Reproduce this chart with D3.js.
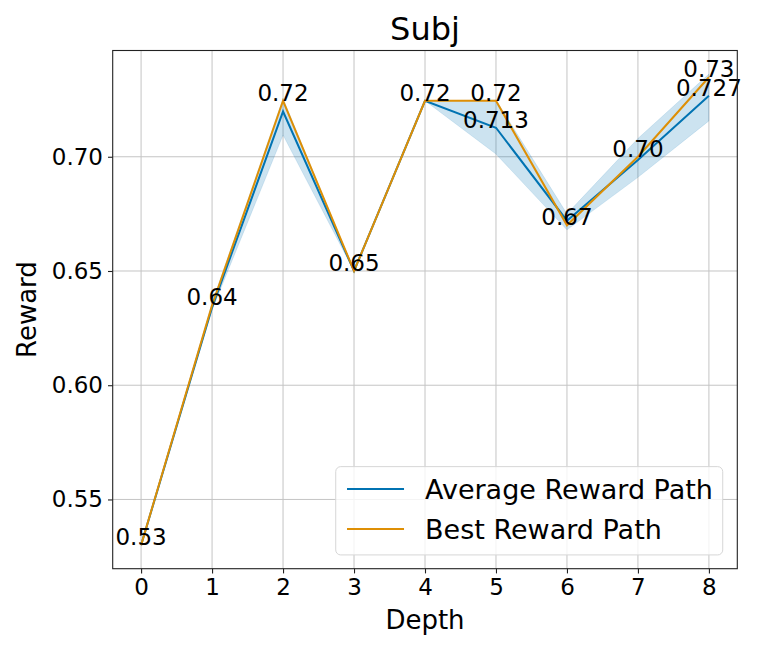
<!DOCTYPE html>
<html>
<head>
<meta charset="utf-8">
<script src="https://cdn.jsdelivr.net/npm/d3@7"></script>
<style>
  body { margin: 0; background: #fff; }
  svg { display: block; font-family: "DejaVu Sans", sans-serif; }
</style>
</head>
<body>
<div id="chart"></div>
<script>
// values
const depths = [0, 1, 2, 3, 4, 5, 6, 7, 8];
const bestReward = [0.530, 0.635, 0.7245, 0.650, 0.7245, 0.7245, 0.670, 0.700, 0.7348];
const avgReward = [0.530, 0.634, 0.7198, 0.650, 0.7245, 0.7127, 0.672, 0.6986, 0.7267];
const avgLower = [0.530, 0.633, 0.7095, 0.650, 0.7245, 0.7012, 0.668, 0.691, 0.7157];
const avgUpper = [0.530, 0.636, 0.7255, 0.650, 0.7245, 0.7248, 0.675, 0.708, 0.7362];
const avgLabelDepths = [5, 8];
const yTicks = [0.55, 0.60, 0.65, 0.70];

const blue = "#0173B2";
const orange = "#DE8F05";

const W = 761, H = 653;
const margin = { top: 50.5, right: 23.7, bottom: 84.3, left: 112.7 };
const iw = W - margin.left - margin.right;
const ih = H - margin.top - margin.bottom;

const svg = d3.select("#chart").append("svg")
  .attr("width", W)
  .attr("height", H)
  .attr("viewBox", `0 0 ${W} ${H}`);

// matplotlib-like 5% margins
const xPad = (d3.max(depths) - d3.min(depths)) * 0.05;
const x = d3.scaleLinear()
  .domain([d3.min(depths) - xPad, d3.max(depths) + xPad])
  .range([margin.left, margin.left + iw]);

const allY = bestReward.concat(avgReward, avgLower, avgUpper);
const yMin = d3.min(allY), yMax = d3.max(allY);
const yPad = (yMax - yMin) * 0.05;
const y = d3.scaleLinear()
  .domain([yMin - yPad, yMax + yPad])
  .range([margin.top + ih, margin.top]);

// grid
const grid = svg.append("g").attr("class", "grid");
grid.selectAll(".gx").data(depths).join("line")
  .attr("x1", d => x(d)).attr("x2", d => x(d))
  .attr("y1", margin.top).attr("y2", margin.top + ih)
  .attr("stroke", "#c4c4c4").attr("stroke-width", 1);
grid.selectAll(".gy").data(yTicks).join("line")
  .attr("x1", margin.left).attr("x2", margin.left + iw)
  .attr("y1", d => y(d)).attr("y2", d => y(d))
  .attr("stroke", "#c4c4c4").attr("stroke-width", 1);

// band
const band = d3.area()
  .x((d, i) => x(depths[i]))
  .y0((d, i) => y(avgLower[i]))
  .y1((d, i) => y(avgUpper[i]));
svg.append("path")
  .datum(depths)
  .attr("d", band)
  .attr("fill", blue)
  .attr("fill-opacity", 0.2)
  .attr("stroke", blue)
  .attr("stroke-opacity", 0.12)
  .attr("stroke-width", 1);

const line = vals => d3.line()
  .x((d, i) => x(depths[i]))
  .y((d, i) => y(vals[i]))(depths);

svg.append("path")
  .attr("d", line(avgReward))
  .attr("fill", "none")
  .attr("stroke", blue)
  .attr("stroke-width", 2);

svg.append("path")
  .attr("d", line(bestReward))
  .attr("fill", "none")
  .attr("stroke", orange)
  .attr("stroke-width", 2);

// point labels
const labels = svg.append("g")
  .attr("font-size", 23)
  .attr("text-anchor", "middle")
  .attr("fill", "#000");
labels.selectAll(".lb").data(depths).join("text")
  .attr("x", d => x(d))
  .attr("y", (d, i) => y(bestReward[i]))
  .text((d, i) => bestReward[i].toFixed(2));
labels.selectAll(".la").data(avgLabelDepths).join("text")
  .attr("x", d => x(d))
  .attr("y", d => y(avgReward[depths.indexOf(d)]))
  .text(d => avgReward[depths.indexOf(d)].toFixed(3));

// spines
svg.append("rect")
  .attr("x", margin.left).attr("y", margin.top)
  .attr("width", iw).attr("height", ih)
  .attr("fill", "none")
  .attr("stroke", "#222")
  .attr("stroke-width", 1.1);

// axes
const xAxis = d3.axisBottom(x)
  .tickValues(depths)
  .tickFormat(d3.format("d"))
  .tickSize(4.7)
  .tickPadding(5);
const gx = svg.append("g")
  .attr("transform", `translate(0,${margin.top + ih})`)
  .call(xAxis);

const yAxis = d3.axisLeft(y)
  .tickValues(yTicks)
  .tickFormat(d3.format(".2f"))
  .tickSize(4.7)
  .tickPadding(5);
const gy = svg.append("g")
  .attr("transform", `translate(${margin.left},0)`)
  .call(yAxis);

[gx, gy].forEach(g => {
  g.select(".domain").remove();
  g.selectAll(".tick line").attr("stroke", "#222").attr("stroke-width", 1.1);
  g.selectAll(".tick text")
    .attr("fill", "#000")
    .attr("font-size", 23)
    .attr("font-family", "DejaVu Sans");
});

// titles
svg.append("text")
  .attr("x", margin.left + iw / 2)
  .attr("y", 40)
  .attr("text-anchor", "middle")
  .attr("font-size", 32)
  .text("Subj");

svg.append("text")
  .attr("x", margin.left + iw / 2)
  .attr("y", 629)
  .attr("text-anchor", "middle")
  .attr("font-size", 26)
  .text("Depth");

svg.append("text")
  .attr("transform", `translate(36,${margin.top + ih / 2}) rotate(-90)`)
  .attr("text-anchor", "middle")
  .attr("font-size", 26)
  .text("Reward");

// legend (lower right)
const legendItems = [
  { label: "Average Reward Path", color: blue },
  { label: "Best Reward Path", color: orange }
];
const fs = 27;
const lgRight = margin.left + iw - fs * 0.54;
const lgBottom = margin.top + ih - fs * 0.51;
const lgW = 387, lgH = 88.3;
const lg = svg.append("g")
  .attr("transform", `translate(${lgRight - lgW},${lgBottom - lgH})`);
lg.append("rect")
  .attr("width", lgW).attr("height", lgH)
  .attr("rx", 5).attr("ry", 5)
  .attr("fill", "#fff").attr("fill-opacity", 0.8)
  .attr("stroke", "#d6d6d6").attr("stroke-width", 1);
const li = lg.selectAll(".li").data(legendItems).join("g")
  .attr("transform", (d, i) => `translate(0,${22.3 + i * 40})`);
li.append("line")
  .attr("x1", 11.3).attr("x2", 68.3)
  .attr("stroke", d => d.color).attr("stroke-width", 2);
li.append("text")
  .attr("x", 89.3)
  .attr("y", 10)
  .attr("font-size", fs)
  .text(d => d.label);
</script>
</body>
</html>
